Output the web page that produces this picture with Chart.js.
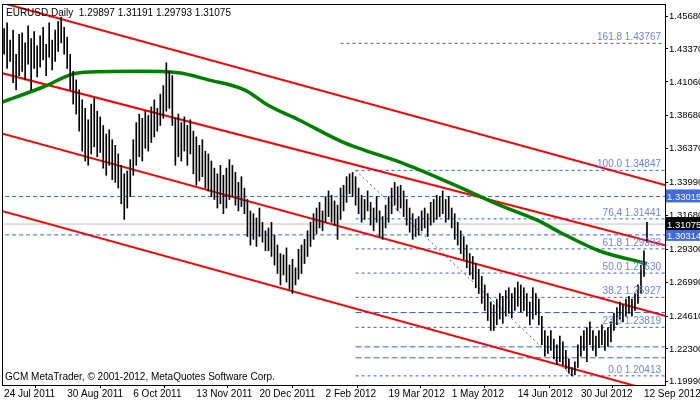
<!DOCTYPE html>
<html><head><meta charset="utf-8">
<script src="https://cdn.jsdelivr.net/npm/chart.js@4"></script>
<style>html,body{margin:0;padding:0;background:#fff}#w{width:700px;height:402px}</style>
</head><body><div id="w"><canvas id="c"></canvas></div>
<script>
const highs=[1.448,1.452,1.440,1.447,1.430,1.444,
1.445,1.438,1.450,1.441,1.446,1.436,
1.443,1.449,1.437,1.452,1.440,1.447,
1.453,1.456,1.449,1.442,1.430,
1.418,1.412,1.405,1.398,1.392,
1.384,1.395,1.399,1.390,1.386,
1.380,1.374,1.377,1.370,1.366,
1.360,1.352,1.346,1.348,1.356,
1.370,1.382,1.388,1.385,1.390,
1.387,1.393,1.398,1.392,1.402,
1.408,1.424,1.418,1.415,1.385,
1.388,1.382,1.386,1.380,1.384,
1.376,1.372,1.366,1.370,1.362,
1.360,1.355,1.350,1.346,1.352,
1.345,1.350,1.356,1.352,1.347,
1.340,1.344,1.336,1.328,1.320,
1.318,1.315,1.322,1.312,1.306,
1.308,1.312,1.303,1.296,1.290,
1.289,1.294,1.282,1.286,1.280,
1.293,1.296,1.300,1.306,1.312,
1.318,1.322,1.326,1.320,1.330,
1.334,1.331,1.327,1.324,1.336,
1.338,1.344,1.346,1.347,1.344,
1.336,1.331,1.328,1.334,1.326,
1.322,1.330,1.320,1.316,1.324,
1.330,1.336,1.340,1.337,1.338,
1.334,1.328,1.322,1.318,1.314,
1.316,1.320,1.322,1.318,1.326,
1.328,1.331,1.330,1.334,1.328,
1.330,1.322,1.318,1.312,1.306,
1.302,1.296,1.290,1.288,1.283,
1.279,1.274,1.268,1.262,1.256,
1.254,1.258,1.262,1.260,1.264,
1.266,1.262,1.266,1.270,1.268,
1.266,1.262,1.256,1.266,1.262,
1.258,1.246,1.236,1.232,1.236,
1.230,1.226,1.232,1.228,1.222,
1.216,1.210,1.214,1.226,1.232,
1.236,1.238,1.242,1.236,1.232,
1.236,1.240,1.236,1.238,1.242,
1.248,1.252,1.256,1.254,1.258,
1.260,1.258,1.262,1.268,1.282,
1.292,1.31191];
const lows=[1.430,1.420,1.425,1.410,1.405,1.415,
1.418,1.412,1.423,1.405,1.420,1.414,
1.421,1.426,1.415,1.428,1.419,1.425,
1.432,1.438,1.430,1.420,1.405,
1.395,1.388,1.376,1.362,1.355,
1.352,1.360,1.365,1.358,1.361,
1.350,1.345,1.352,1.342,1.340,
1.336,1.325,1.314,1.322,1.330,
1.345,1.352,1.358,1.355,1.364,
1.362,1.368,1.372,1.376,1.380,
1.385,1.390,1.392,1.380,1.352,
1.358,1.355,1.362,1.352,1.360,
1.346,1.338,1.341,1.344,1.336,
1.334,1.330,1.328,1.322,1.325,
1.318,1.322,1.328,1.330,1.324,
1.320,1.323,1.318,1.302,1.296,
1.300,1.295,1.302,1.298,1.292,
1.292,1.288,1.282,1.276,1.268,
1.275,1.270,1.265,1.262,1.268,
1.272,1.276,1.283,1.288,1.295,
1.300,1.304,1.308,1.306,1.312,
1.316,1.312,1.310,1.300,1.314,
1.320,1.326,1.332,1.330,1.324,
1.318,1.312,1.314,1.320,1.310,
1.306,1.312,1.302,1.300,1.308,
1.312,1.318,1.324,1.320,1.322,
1.316,1.310,1.305,1.300,1.302,
1.303,1.306,1.308,1.302,1.310,
1.312,1.314,1.316,1.318,1.312,
1.314,1.308,1.300,1.296,1.290,
1.286,1.280,1.275,1.272,1.266,
1.262,1.255,1.250,1.243,1.236,
1.236,1.240,1.244,1.241,1.246,
1.248,1.245,1.250,1.253,1.249,
1.250,1.246,1.240,1.244,1.247,
1.240,1.226,1.218,1.220,1.222,
1.216,1.212,1.214,1.212,1.209,
1.206,1.204,1.205,1.210,1.218,
1.222,1.214,1.226,1.222,1.218,
1.224,1.226,1.222,1.225,1.228,
1.236,1.240,1.244,1.242,1.246,
1.248,1.246,1.250,1.255,1.262,
1.274,1.29793];
const maIdx=[-1,13,25,45,58,68,80,88,98,112,118,132,148,165,178,185,198,212,214];
const maVal=[1.396,1.407,1.417,1.418,1.417,1.412,1.405,1.394,1.384,1.369,1.364,1.354,1.340,1.324,1.313,1.305,1.292,1.284,1.283];
const chanStart=[1.4667,1.4173,1.3749,1.3205];
const chanEnd=[1.3382,1.2958,1.2464,1.1913];
const chanX=[-1.67,220];
const fibPct=['161.8','100.0','76,4','61.8','50.0','38.2','23.6','0.0'];
const fibVal=[1.43767,1.34847,1.31441,1.29333,1.27630,1.25927,1.23819,1.20413];
const extraLevels=[1.2486,1.2245,1.2168];
const hLevels=[1.33015,1.30314];
const lastPrice=1.31075;
const yTicks=[1.45680,1.43370,1.41060,1.38680,1.36370,1.33990,1.31680,1.29300,1.26990,1.24610,1.22300,1.19990];
const xTickIdx=[0,21,43,64,85,107,128,149,171,192,213];
const xTickLbl=['24 Jul 2011','30 Aug 2011','6 Oct 2011','13 Nov 2011','20 Dec 2011','2 Feb 2012','19 Mar 2012','1 May 2012','14 Jun 2012','30 Jul 2012','12 Sep 2012'];
const title='EURUSD,Daily  1.29897 1.31191 1.29793 1.31075';
const footer='GCM MetaTrader, © 2001-2012, MetaQuotes Software Corp.';

const FONT='"Liberation Sans", Arial, sans-serif';
const ds=[];
ds.push({type:'bar',data:highs.map((h,i)=>({x:i,y:[lows[i],h]})),backgroundColor:'#000',barThickness:1,order:1});
ds.push({type:'line',data:maIdx.map((x,i)=>({x,y:maVal[i]})),borderColor:'#008000',borderWidth:3.5,pointRadius:0,cubicInterpolationMode:'monotone',order:2});
chanStart.forEach((s,i)=>ds.push({type:'line',data:[{x:chanX[0],y:s},{x:chanX[1],y:chanEnd[i]}],borderColor:'#ff0000',borderWidth:2,pointRadius:0,order:3}));
fibVal.forEach((v,i)=>ds.push({type:'line',data:[{x:i==0?112:117,y:v},{x:220,y:v}],borderColor:'#3b5ee0',borderWidth:1,borderDash:[3,3],pointRadius:0,order:5}));
extraLevels.forEach(v=>ds.push({type:'line',data:[{x:117,y:v},{x:220,y:v}],borderColor:'#3b5ee0',borderWidth:1,borderDash:[6,3],pointRadius:0,order:5}));
hLevels.forEach(v=>ds.push({type:'line',data:[{x:-2,y:v},{x:220,y:v}],borderColor:'#3b5ee0',borderWidth:1,borderDash:[4,3],pointRadius:0,order:5}));
ds.push({type:'line',data:[{x:-2,y:lastPrice},{x:220,y:lastPrice}],borderColor:'#c0c0c0',borderWidth:1,pointRadius:0,order:6});
ds.push({type:'line',data:[{x:117,y:fibVal[1]},{x:189,y:fibVal[7]}],borderColor:'#3b5ee0',borderWidth:1,borderDash:[2,3],pointRadius:0,order:5});

const deco={id:'deco',afterDraw(ch){
  const c=ch.ctx,a=ch.chartArea,ys=ch.scales.y;
  c.save();
  c.strokeStyle='#000';c.lineWidth=1;c.strokeRect(a.left+0.5,a.top+0.5,a.right-a.left,a.bottom-a.top);
  c.font='10px '+FONT;c.textBaseline='alphabetic';
  c.fillStyle='#7080e8';c.textAlign='right';
  fibVal.forEach((v,i)=>{c.fillText(fibPct[i]+' '+v.toFixed(5),a.right-4,ys.getPixelForValue(v)-3);});
  c.textAlign='left';c.fillStyle='#000';
  c.fillText(title,a.left+4,a.top+12);
  c.fillText(footer,a.left+3,a.bottom-5);
  c.font='9.5px '+FONT;
  const box=(v,bg)=>{const y=ys.getPixelForValue(v);c.fillStyle=bg;c.fillRect(a.right+1,y-7,35,13);c.fillStyle='#fff';c.fillText(v.toFixed(5),a.right+2,y+4);};
  box(hLevels[0],'#4169e1');box(hLevels[1],'#4169e1');box(lastPrice,'#000');
  c.restore();
}};

new Chart(document.getElementById('c'),{
  type:'bar',
  data:{datasets:ds},
  plugins:[deco],
  options:{responsive:true,maintainAspectRatio:false,animation:false,
    layout:{padding:{left:2,top:4,right:0,bottom:0}},
    plugins:{legend:{display:false},tooltip:{enabled:false}},
    scales:{
      x:{type:'linear',min:-0.7,max:220,offset:false,grid:{drawOnChartArea:false,tickLength:3,color:'#000'},border:{color:'#000'},
        afterBuildTicks:s=>{s.ticks=xTickIdx.map(v=>({value:v}));},
        afterFit:s=>{s.height=17;s.paddingLeft=0;s.paddingRight=0;},
        ticks:{align:'start',autoSkip:false,maxRotation:0,padding:0,color:'#000',font:{family:FONT,size:10},
          callback:(v)=>{const i=xTickIdx.indexOf(v);return i>=0?xTickLbl[i]:'';}}},
      y:{type:'linear',position:'right',min:1.1977,max:1.4653,grid:{drawOnChartArea:false,tickLength:3,color:'#000'},border:{color:'#000'},
        afterBuildTicks:s=>{s.ticks=yTicks.map(v=>({value:v}));},
        afterFit:s=>{s.width=35;s.paddingTop=0;s.paddingBottom=0;},
        ticks:{padding:1,color:'#000',font:{family:FONT,size:9.5},callback:v=>v.toFixed(5)}}
    }}
});
</script></body></html>
